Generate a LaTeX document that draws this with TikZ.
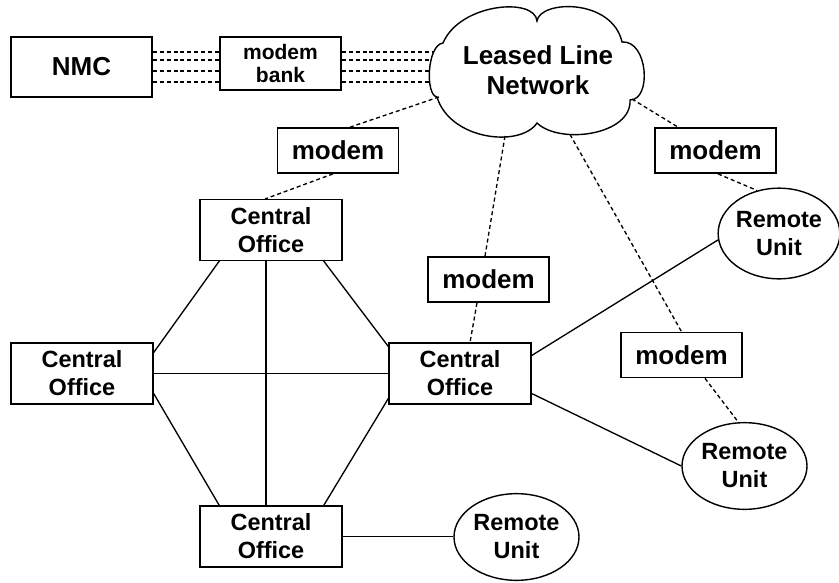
\documentclass[tikz,border=0pt]{standalone}
\usepackage{fontspec}
\setmainfont{Liberation Sans}
\usetikzlibrary{shapes.geometric,calc}
\begin{document}
\begin{tikzpicture}[x=0.75pt,y=-0.75pt,
  every node/.style={align=center,inner sep=0pt,line width=1.05pt},
  bigfont/.style={font=\bfseries\fontsize{19.5}{22.5}\selectfont},
  cofont/.style={font=\bfseries\fontsize{17.6}{21}\selectfont},
  cobox/.style={draw,cofont,minimum width=106.5pt,minimum height=45.5pt},
  mdbox/.style={draw,bigfont,minimum width=90.75pt,minimum height=34pt},
  rubox/.style={draw,ellipse,cofont,minimum width=93.75pt,minimum height=65pt},
  sol/.style={line width=1pt},
  dsh/.style={line width=1pt,dash pattern=on 3pt off 2.2pt}]
\useasboundingbox (0,0) rectangle (839,582);

\node[draw,bigfont,minimum width=105.75pt,minimum height=45pt] (nmc) at (81.5,67) {NMC};
\node[draw,font=\bfseries\fontsize{15.75}{17.25}\selectfont,minimum width=90.75pt,minimum height=39.75pt] (bank) at (280.5,63.5) {modem\\bank};

% cloud outline and its label
\draw[line width=1.05pt] (443,43) .. controls (460,3) and (535,-3) .. (537,21)
  .. controls (540,0) and (612,-2) .. (622,42)
  .. controls (648,40) and (652,100) .. (630,100)
  .. controls (632,135) and (560,145) .. (537,123)
  .. controls (520,148) and (450,140) .. (437,97)
  .. controls (425,95) and (427,45) .. (443,43) -- cycle;
\node[bigfont] (cloud) at (538,70) {Leased Line\\Network};
\coordinate (cl1) at (439,97);
\coordinate (cl2) at (505,136);
\coordinate (cl3) at (570,134.5);
\coordinate (cl4) at (632,99);

\node[mdbox] (m1) at (338,150.5) {modem};
\node[mdbox] (m2) at (488.5,279.5) {modem};
\node[mdbox] (m3) at (681.5,355) {modem};
\node[mdbox] (m4) at (715.5,150.5) {modem};

\node[cobox] (co1) at (271,230) {Central\\Office};
\node[cobox] (co2) at (82,373.5) {Central\\Office};
\node[cobox] (co3) at (460,373.5) {Central\\Office};
\node[cobox] (co4) at (271,536.5) {Central\\Office};

\node[rubox,minimum width=90pt,minimum height=68pt] (ru1) at (779,233.5) {Remote\\Unit};
\node[rubox] (ru2) at (744.5,466) {Remote\\Unit};
\node[rubox] (ru3) at (516.5,537) {Remote\\Unit};

% solid links
\draw[sol] ($(co1.south west)+(20,0)$) -- ($(co2.north east)+(0,10)$);
\draw[sol] ($(co1.south east)+(-19,0)$) -- ($(co3.north west)+(0,4)$);
\draw[sol] ($(co1.south)+(-5,0)$) -- ($(co4.north)+(-5,0)$);
\draw[sol] (co2.east) -- (co3.west);
\draw[sol] ($(co2.south east)+(0,-11)$) -- ($(co4.north west)+(20,0)$);
\draw[sol] ($(co3.south west)+(0,-6)$) -- ($(co4.north east)+(-19,0)$);
\draw[sol] (co4.east) -- (co4.east -| ru3.west);
\draw[sol] ($(co3.east)+(0,-18)$) -- (ru1.186);
\draw[sol] ($(co3.east)+(0,20)$) -- (ru2.west);

% dashed links
\foreach \yy/\xx [count=\i] in {52/433.5,60/431.5,71/429.6,82/430.3} {
  \coordinate (cw\i) at (\xx,\yy);
  \draw[dsh] (nmc.east |- cw\i) -- (bank.west |- cw\i);
  \draw[dsh] (bank.east |- cw\i) -- (cw\i);
}
\draw[dsh] (cl1) -- ($(m1.north)+(12,0)$);
\draw[dsh] ($(m1.south)+(-5,0)$) -- ($(co1.north)+(-6,0)$);
\draw[dsh] (cl2) -- ($(m2.north)+(-3.5,0)$);
\draw[dsh] ($(m2.south)+(-11.5,0)$) -- ($(co3.north)+(10,0)$);
\draw[dsh] (cl3) -- (m3.north);
\draw[dsh] ($(m3.south)+(23.5,0)$) -- (ru2.98);
\draw[dsh] (cl4) -- ($(m4.north)+(-37.5,0)$);
\draw[dsh] ($(m4.south)+(2.5,0)$) -- (ru1.117);
\end{tikzpicture}
\end{document}
